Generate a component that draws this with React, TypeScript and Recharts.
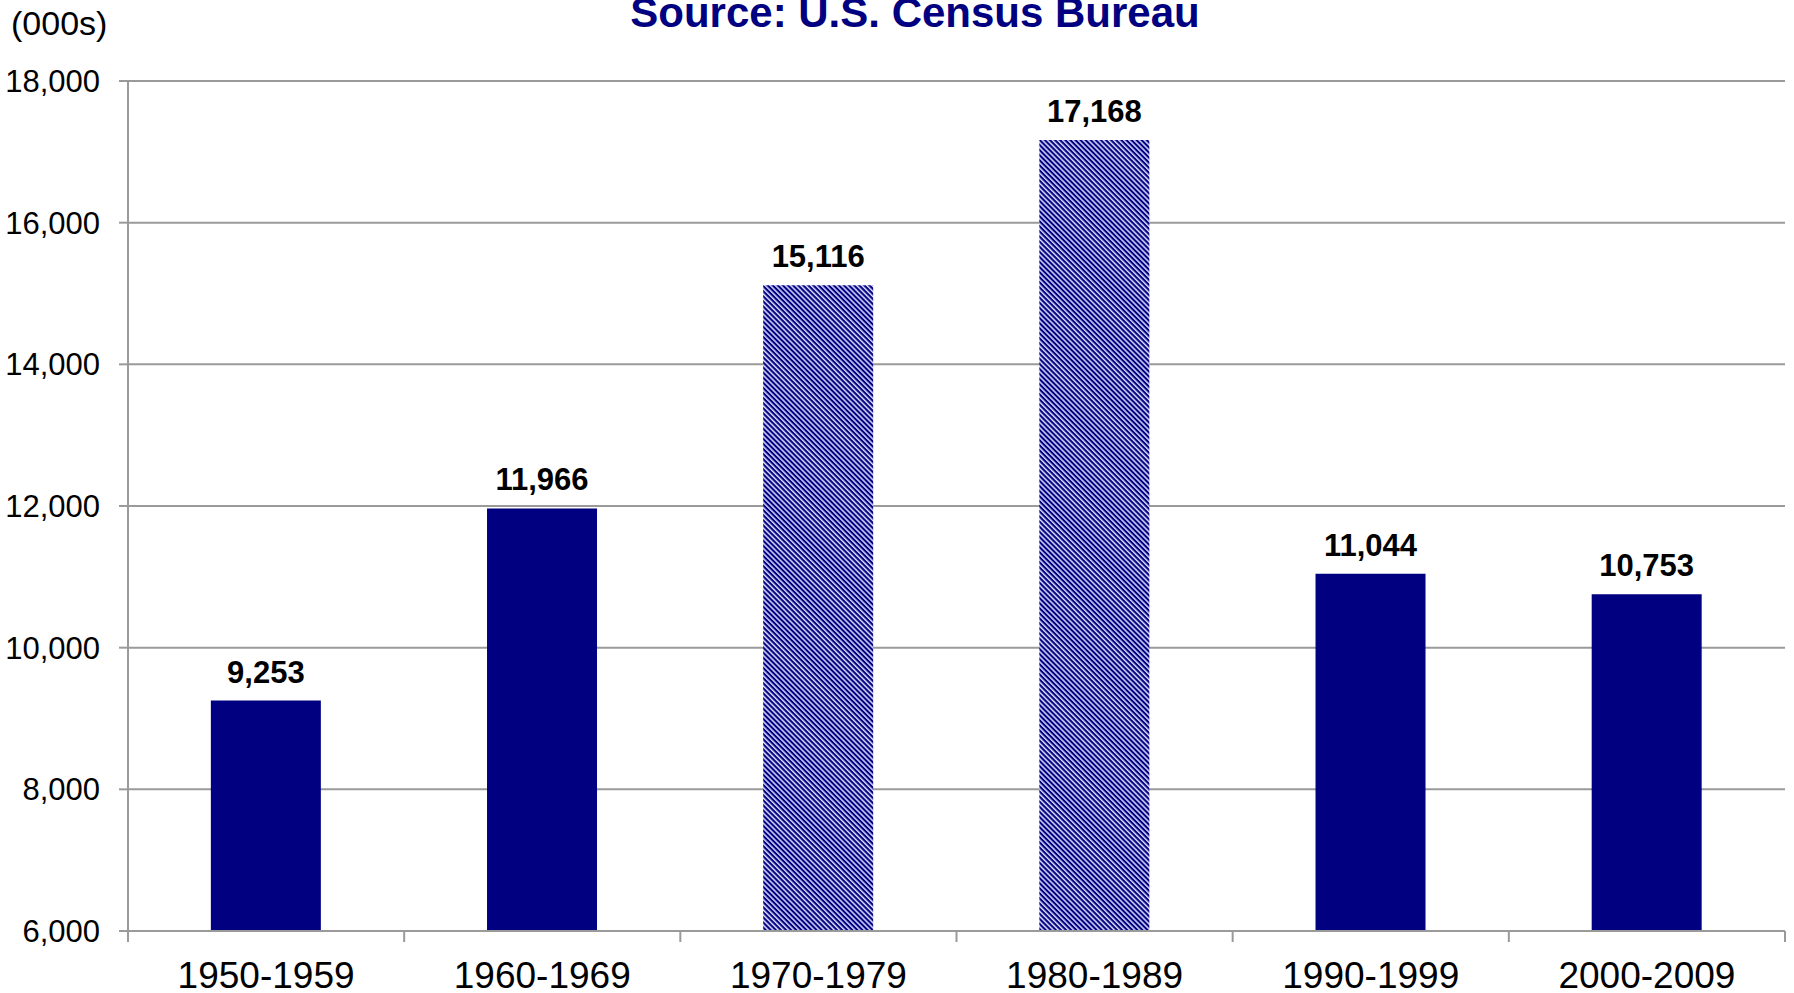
import React from 'react';
import { BarChart, Bar, XAxis, YAxis, CartesianGrid, Cell, LabelList } from 'recharts';

const categories = ['1950-1959', '1960-1969', '1970-1979', '1980-1989', '1990-1999', '2000-2009'];
const values = [9253, 11966, 15116, 17168, 11044, 10753];
const hatched = [false, false, true, true, false, false];
const yTicks = [6000, 8000, 10000, 12000, 14000, 16000, 18000];
const titleText = 'Source: U.S. Census Bureau';
const unitText = '(000s)';

const data = categories.map((c, i) => ({ category: c, value: values[i], hatched: hatched[i] }));

const W = 1794;
const H = 993;
const M = { top: 81, right: 9, bottom: 0, left: 0 };
const Y_W = 128;
const X_H = 62;
const AXIS_Y = H - M.bottom - X_H;
const FONT = '"Liberation Sans", Arial, Helvetica, sans-serif';
const NAVY = '#000080';
const GRID = '#9a9a9a';

const fmt = (v: any) => Number(v).toLocaleString('en-US');

const XTick = (props: any) => {
  const { x, payload, index } = props;
  const band = (W - M.left - Y_W - M.right) / categories.length;
  const half = band / 2;
  const last = index === categories.length - 1;
  return (
    <g>
      <line x1={x - half} x2={x - half} y1={AXIS_Y} y2={AXIS_Y + 11} stroke={GRID} strokeWidth={2} />
      {last && <line x1={x + half} x2={x + half} y1={AXIS_Y} y2={AXIS_Y + 11} stroke={GRID} strokeWidth={2} />}
      <text x={x} y={988} textAnchor="middle" fontFamily={FONT} fontSize={37} fill="#000">
        {payload.value}
      </text>
    </g>
  );
};

export default function App() {
  return (
    <div style={{ position: 'absolute', left: 0, top: 0, width: W, height: H, background: '#fff' }}>
      <svg width={W} height={H} style={{ position: 'absolute', left: 0, top: 0 }}>
        <defs>
          <pattern id="hatch" patternUnits="userSpaceOnUse" width={3.6} height={3.6} patternTransform="rotate(-45)">
            <rect x={0} y={0} width={3.6} height={3.6} fill={NAVY} />
            <rect x={0} y={0} width={1.5} height={3.6} fill="#dcdcff" />
          </pattern>
        </defs>
        <text x={11} y={35} fontFamily={FONT} fontSize={34} fill="#000">{unitText}</text>
        <text x={915} y={27} textAnchor="middle" fontFamily={FONT} fontSize={42} fontWeight="bold" fill={NAVY}>
          {titleText}
        </text>
      </svg>
      <div style={{ position: 'absolute', left: 0, top: 0 }}>
        <BarChart width={W} height={H} data={data} margin={M} barCategoryGap="30%">
          <CartesianGrid vertical={false} stroke={GRID} strokeWidth={2} />
          <XAxis
            dataKey="category"
            height={X_H}
            axisLine={{ stroke: GRID, strokeWidth: 2 }}
            tickLine={false}
            tick={<XTick />}
            interval={0}
          />
          <YAxis
            width={Y_W}
            domain={[6000, 18000]}
            ticks={yTicks}
            interval={0}
            allowDataOverflow
            axisLine={{ stroke: GRID, strokeWidth: 2 }}
            tickLine={{ stroke: GRID, strokeWidth: 2 }}
            tickSize={9}
            tickMargin={19}
            tickFormatter={fmt}
            tick={{ fontFamily: FONT, fontSize: 31, fill: '#000' }}
          />
          <Bar dataKey="value" isAnimationActive={false}>
            {data.map((d, i) => (
              <Cell key={i} fill={d.hatched ? 'url(#hatch)' : NAVY} />
            ))}
            <LabelList
              dataKey="value"
              position="top"
              offset={18}
              formatter={fmt}
              style={{ fontFamily: FONT, fontSize: 31, fontWeight: 'bold', fill: '#000' }}
            />
          </Bar>
        </BarChart>
      </div>
    </div>
  );
}
